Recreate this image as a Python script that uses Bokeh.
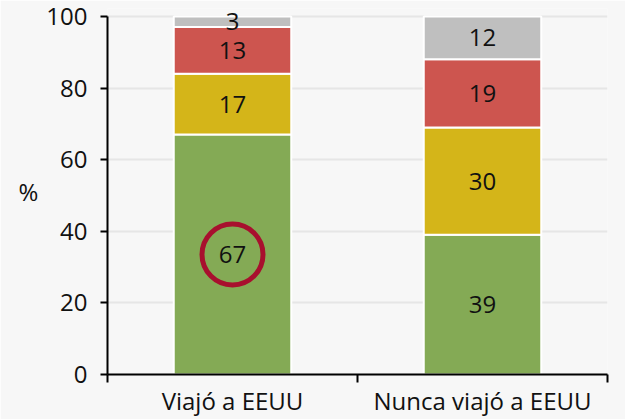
from bokeh.plotting import figure
from bokeh.models import ColumnDataSource, FixedTicker
from bokeh.embed import file_html
from bokeh.resources import INLINE
from bokeh.core.properties import value

categories = ["Viajó a EEUU", "Nunca viajó a EEUU"]
seg_green = [67, 39]
seg_yellow = [17, 30]
seg_red = [13, 19]
seg_gray = [3, 12]
y_ticks = [0, 20, 40, 60, 80, 100]
highlight_value = 67

colors = ["#84aa55", "#d4b519", "#cd554f", "#bfbfbf"]
FONT = "Open Sans"

p = figure(width=625, height=419, x_range=(0, 2), y_range=(0, 102.2),
           output_backend="svg", toolbar_location=None,
           min_border_left=107, min_border_right=18, min_border_top=8, min_border_bottom=43)
p.background_fill_color = "#f7f7f7"
p.border_fill_color = "#f7f7f7"
p.outline_line_color = None

xs = [i + 0.5 for i in range(len(categories))]
series = [seg_green, seg_yellow, seg_red, seg_gray]
bottom = [0] * len(categories)
for vals, col in zip(series, colors):
    top = [b + v for b, v in zip(bottom, vals)]
    mid = [(b + t) / 2 for b, t in zip(bottom, top)]
    src = ColumnDataSource(dict(x=xs, bottom=bottom, top=top, mid=mid,
                                lab=[str(v) for v in vals]))
    p.vbar(x="x", bottom="bottom", top="top", width=0.47, source=src,
           fill_color=col, line_color="white", line_width=2)
    p.text(x="x", y="mid", text="lab", source=src, text_align="center",
           text_baseline="middle", text_font=value(FONT), text_font_size="24px",
           text_color="#111111")
    bottom = top

# highlight circle around first green segment label
p.scatter(x=[xs[0]], y=[highlight_value / 2], marker="circle", size=61,
          fill_color=None, line_color="#a8102e", line_width=5)

p.xgrid.grid_line_color = None
p.ygrid.grid_line_color = "#e6e6e6"
p.ygrid.grid_line_width = 2
p.ygrid.ticker = FixedTicker(ticks=y_ticks)

p.yaxis.ticker = FixedTicker(ticks=y_ticks)
p.yaxis.bounds = (0, 100)
p.yaxis.axis_label = "%"
p.yaxis.axis_label_orientation = "horizontal"
p.yaxis.axis_label_text_font = FONT
p.yaxis.axis_label_text_font_style = "normal"
p.yaxis.axis_label_text_font_size = "24px"
p.yaxis.axis_label_text_color = "#111111"
p.yaxis.axis_label_standoff = 5
p.xaxis.ticker = FixedTicker(ticks=xs, minor_ticks=[0, 1, 2])
p.xaxis.major_label_overrides = {x: c for x, c in zip(xs, categories)}
p.xaxis.major_tick_line_color = None
p.xaxis.minor_tick_line_color = "black"
p.xaxis.minor_tick_line_width = 2
p.xaxis.minor_tick_out = 8
p.xaxis.minor_tick_in = 0

for ax in (p.xaxis, p.yaxis):
    ax.axis_line_color = "black"
    ax.axis_line_width = 2
    ax.major_label_text_font = FONT
    ax.major_label_text_font_size = "24px"
    ax.major_label_text_color = "#111111"
p.yaxis.major_tick_line_width = 2
p.yaxis.major_tick_out = 7
p.yaxis.major_tick_in = 0
p.yaxis.minor_tick_line_color = None
p.yaxis.major_label_standoff = 13
p.xaxis.major_label_standoff = 1

open("out.html", "w").write(file_html(p, INLINE))
